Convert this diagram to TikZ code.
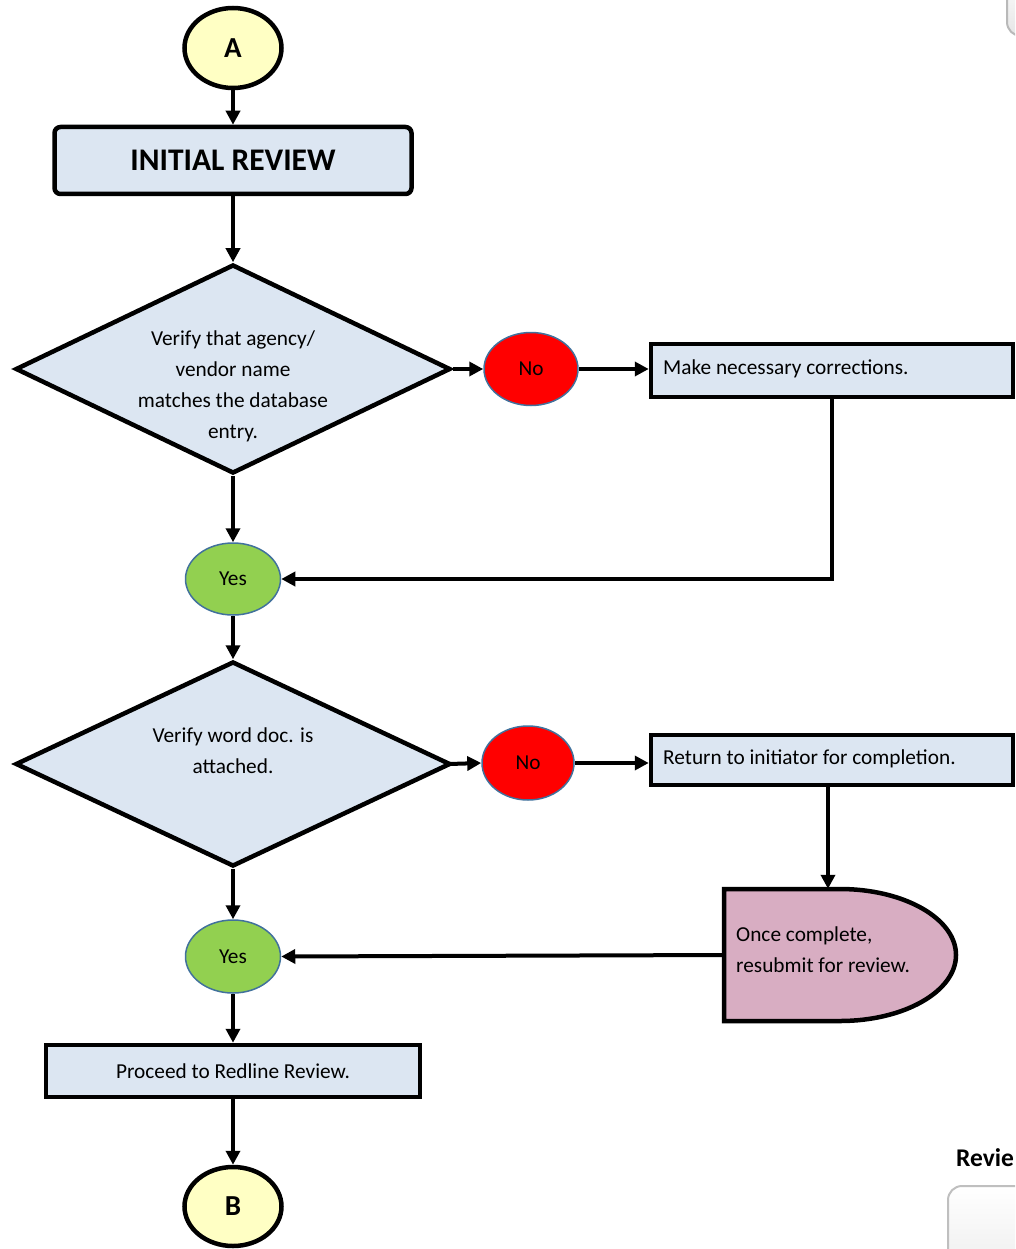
\documentclass[tikz,border=0pt]{standalone}
\usepackage{fontspec}
\setmainfont{Carlito}
\usetikzlibrary{shapes.geometric,arrows.meta}
\definecolor{lblue}{HTML}{DCE6F2}
\definecolor{lyell}{HTML}{FFFFC4}
\definecolor{gfill}{HTML}{92D050}
\definecolor{ebord}{HTML}{41719C}
\definecolor{pinkf}{HTML}{D8ADC2}
\tikzset{
  arr/.style={line width=4pt,-{Triangle[length=14pt,width=14pt]}},
  termc/.style={ellipse,draw,line width=4.5pt,fill=lyell,inner sep=0pt,font=\bfseries\fontsize{29}{33}\selectfont},
  pbox/.style={rectangle,draw,line width=4.5pt,fill=lblue,inner sep=0pt,font=\fontsize{21.3}{25}\selectfont},
  dia/.style={diamond,draw,line width=4.5pt,fill=lblue,inner sep=0pt},
  diatext/.style={align=center,font=\fontsize{21.3}{31}\selectfont,inner sep=0pt},
  yesn/.style={ellipse,draw=ebord,line width=1.5pt,fill=gfill,inner sep=0pt,font=\fontsize{21.3}{25}\selectfont},
  non/.style={ellipse,draw=ebord,line width=1.5pt,fill=red,inner sep=0pt,font=\fontsize{21.3}{25}\selectfont},
  btext/.style={anchor=west,inner sep=0pt,font=\fontsize{21.3}{25}\selectfont},
}
\begin{document}
\begin{tikzpicture}[x=1pt,y=-1pt]
\useasboundingbox (0,0) rectangle (1015,1249);
\clip (0,0) rectangle (1015,1249);
% partial shapes at the right edge
\draw[gray!55,line width=2pt,top color=white,bottom color=gray!20,rounded corners=14] (1007,-30) rectangle (1090,36);
\draw[gray!50,line width=2pt,top color=white,bottom color=gray!18,rounded corners=14] (948,1186) rectangle (1100,1300);
\node[anchor=base west,inner sep=0pt,font=\bfseries\fontsize{25.5}{29}\selectfont] (rev) at (956,1166) {Revie};

% nodes
\node[termc,minimum width=97,minimum height=80] (A) at (233,48) {A};
\node[pbox,rounded corners=6,minimum width=357,minimum height=67,font=\bfseries\fontsize{31.5}{35}\selectfont] (init) at (233,160.5) {INITIAL REVIEW};
\node[dia,minimum width=435,minimum height=209] (d1) at (233,369) {};
\node[diatext] (d1t) at (233,386) {Verify that agency/\\vendor name\\matches the database\\entry.};
\node[non,minimum width=94,minimum height=73] (no1) at (531,369) {No};
\node[pbox,minimum width=362,minimum height=53] (box1) at (832,370.5) {};
\node[btext] (box1t) at (663,369) {Make necessary corrections.};
\node[yesn,minimum width=95,minimum height=72] (yes1) at (233,579) {Yes};
\node[dia,minimum width=435,minimum height=205] (d2) at (233,764) {};
\node[diatext] (d2t) at (233,751) {Verify word doc. is\\attached.};
\node[non,minimum width=92,minimum height=74] (no2) at (528,763) {No};
\node[pbox,minimum width=362,minimum height=50] (box2) at (832,760) {};
\node[btext] (box2t) at (663,759) {Return to initiator for completion.};
% delay shape
\node[minimum width=232,minimum height=132,inner sep=0pt] (delay) at (840,955) {};
\draw[line width=4.5pt,fill=pinkf] (724,889) -- (840,889) .. controls (904,889) and (956,918.5) .. (956,955) .. controls (956,991.5) and (904,1021) .. (840,1021) -- (724,1021) -- cycle;
\node[anchor=west,align=left,inner sep=0pt,font=\fontsize{21.3}{31}\selectfont] (delayt) at (736,950) {Once complete,\\resubmit for review.};
\node[yesn,minimum width=95,minimum height=73] (yes2) at (233,956.5) {Yes};
\node[pbox,minimum width=374,minimum height=52] (box3) at (233,1071) {Proceed to Redline Review.};
\node[termc,minimum width=97,minimum height=79] (B) at (233,1206.5) {B};

% connectors
\draw[arr] (A) -- (init);
\draw[arr] (init) -- (d1);
\draw[arr] (d1.east) -- (no1.west);
\draw[arr] (no1.east) -- (no1.east -| box1.west);
\draw[arr] (box1.south) |- (yes1.east);
\draw[arr] (d1.south) -- (yes1.north);
\draw[arr] (yes1.south) -- (d2.north);
\draw[arr] (d2.east -| no2.west) ++(-32,0) -- (no2.west);
\draw[arr] (no2.east) -- (no2.east -| box2.west);
\draw[arr] ([xshift=-4pt]box2.south) -- ([xshift=-4pt]box2.south |- delay.north);
\draw[arr] (delay.west) -- (yes2.east);
\draw[arr] (d2.south) -- (yes2.north);
\draw[arr] (yes2.south) -- (box3.north);
\draw[arr] (box3.south) -- (B.north);
\end{tikzpicture}
\end{document}
